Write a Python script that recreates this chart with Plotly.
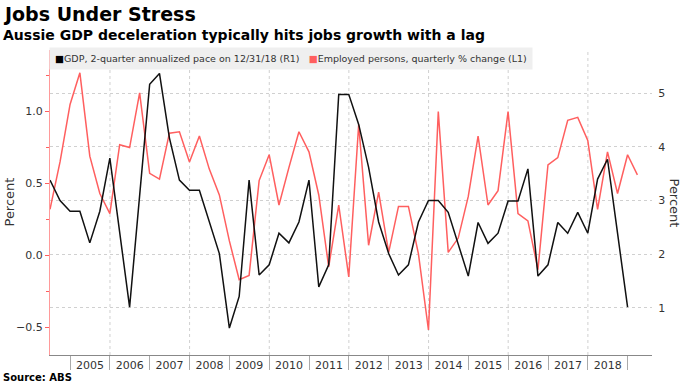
import pandas as pd
import plotly.graph_objects as go

# ---------------- data ----------------
gdp_start = "2004Q2"
gdp_values = [3.38, 3.00, 2.80, 2.80, 2.21, 2.80, 3.79, 2.40, 1.01, 3.09,
              5.17, 5.37, 4.17, 3.38, 3.19, 3.19, 2.60, 2.01, 0.62, 1.21,
              3.38, 1.61, 1.80, 2.39, 2.21, 2.60, 3.38, 1.39, 1.80, 4.98,
              4.98, 4.42, 3.62, 2.60, 2.01, 1.61, 1.80, 2.60, 3.00, 3.00,
              2.78, 2.19, 1.59, 2.59, 2.20, 2.39, 2.99, 2.99, 3.59, 1.59,
              1.80, 2.59, 2.39, 2.78, 2.39, 3.40, 3.77, 2.39, 1.01]

emp_start = "2004Q2"
emp_values = [0.32, 0.65, 1.05, 1.27, 0.69, 0.43, 0.29, 0.77, 0.75, 1.13,
              0.57, 0.53, 0.85, 0.86, 0.65, 0.83, 0.60, 0.42, 0.10, -0.17,
              -0.14, 0.52, 0.70, 0.35, 0.61, 0.86, 0.72, 0.42, -0.08, 0.35,
              -0.15, 0.91, 0.07, 0.44, 0.02, 0.34, 0.34, 0.01, -0.52, 1.00,
              0.02, 0.12, 0.41, 0.83, 0.35, 0.45, 1.00, 0.29, 0.24, -0.10,
              0.63, 0.68, 0.94, 0.96, 0.80, 0.32, 0.72, 0.43, 0.70, 0.56]

years = list(range(2005, 2019))
year_labels = [str(y) for y in years]
left_ticks = [-0.5, 0.0, 0.5, 1.0]
right_ticks = [1, 2, 3, 4, 5]

gdp_name = "GDP, 2-quarter annualized pace on 12/31/18 (R1)"
emp_name = "Employed persons, quarterly % change (L1)"

# ---------------- helpers ----------------
def quarter_ends(start, n):
    return pd.period_range(start, periods=n, freq="Q").end_time.normalize()

gdp_dates = quarter_ends(gdp_start, len(gdp_values))
emp_dates = quarter_ends(emp_start, len(emp_values))

RED = "#ff5f5f"
FONT = "DejaVu Sans"

fig = go.Figure()
fig.add_trace(go.Scatter(x=gdp_dates, y=gdp_values, mode="lines", name=gdp_name,
                         line=dict(color="#111111", width=1.5), yaxis="y2"))
fig.add_trace(go.Scatter(x=emp_dates, y=emp_values, mode="lines", name=emp_name,
                         line=dict(color=RED, width=1.5), yaxis="y"))

# vertical dotted gridlines every two years
for y in years:
    if y % 2 == 0:
        fig.add_shape(type="line", x0=f"{y}-01-01", x1=f"{y}-01-01", xref="x",
                      y0=0, y1=1, yref="paper", layer="below",
                      line=dict(color="#d0d0d0", width=1, dash="dot"))

fig.update_layout(
    width=683, height=384,
    margin=dict(l=50, r=31, t=50, b=29),
    paper_bgcolor="white", plot_bgcolor="white",
    showlegend=False,
    font=dict(family=FONT, size=11, color="#333333"),
    xaxis=dict(
        type="date",
        range=["2004-06-30", "2019-08-12"],
        tickmode="array",
        tickvals=[f"{y}-07-02" for y in years],
        ticktext=year_labels,
        ticks="",
        showgrid=False, zeroline=False,
        showline=True, linecolor="#888888", linewidth=1,
        tickfont=dict(size=11, color="#333333"),
        minor=dict(tickmode="linear", tick0="2005-01-01", dtick="M12",
                   ticks="outside", ticklen=14, tickcolor="#aaaaaa", tickwidth=1,
                   showgrid=False),
    ),
    yaxis=dict(
        range=[-0.694, 1.429],
        tickmode="array", tickvals=left_ticks, tickformat=".1f",
        ticks="outside", ticklen=4, tickcolor=RED, tickwidth=1,
        showgrid=False, zeroline=False,
        showline=True, linecolor="#ff9a9a", linewidth=1,
        tickfont=dict(size=11, color="#333333"),
        minor=dict(tickmode="linear", tick0=0, dtick=0.25, ticks="outside",
                   ticklen=3, tickcolor=RED, showgrid=False),
    ),
    yaxis2=dict(
        range=[0.118, 5.808], overlaying="y", side="right",
        tickmode="array", tickvals=right_ticks,
        ticks="outside", ticklen=3, tickcolor="rgba(0,0,0,0)",
        showgrid=True, gridcolor="#d0d0d0", griddash="dot", gridwidth=1,
        zeroline=False, showline=False,
        tickfont=dict(size=11, color="#333333"),
    ),
)

PX_W = 602.0
PX_H = 305.0
def px(xp):
    return (xp - 50) / PX_W
def py(yp):
    return (355 - yp) / PX_H

legend_text = (f"<span style='color:#000000'>■</span>{gdp_name}   "
               f"<span style='color:{RED}'>■</span>{emp_name}")

annotations = [
    dict(text="<b>Jobs Under Stress</b>", x=px(1), y=py(14), xanchor="left", yanchor="middle",
         font=dict(family=FONT, size=19, color="#000000")),
    dict(text="<b>Aussie GDP deceleration typically hits jobs growth with a lag</b>",
         x=px(1), y=py(35), xanchor="left", yanchor="middle",
         font=dict(family=FONT, size=14, color="#000000")),
    dict(text=legend_text, x=px(49), y=py(58), xanchor="left", yanchor="middle",
         bgcolor="#efefef", borderpad=5, align="left",
         font=dict(family=FONT, size=9.5, color="#333333")),
    dict(text="Percent", x=px(9), y=0.5, textangle=-90, xanchor="center", yanchor="middle",
         font=dict(family=FONT, size=13, color="#333333")),
    dict(text="Percent", x=px(674), y=0.5, textangle=90, xanchor="center", yanchor="middle",
         font=dict(family=FONT, size=13, color="#333333")),
    dict(text="<b>Source: ABS</b>", x=px(1), y=py(377), xanchor="left", yanchor="middle",
         font=dict(family=FONT, size=10, color="#000000")),
]
for a in annotations:
    a.update(xref="paper", yref="paper", showarrow=False)
fig.update_layout(annotations=annotations)

fig.write_html("out.html",
               config={"displayModeBar": False},
               post_script="document.body.style.margin='0';document.body.style.padding='0';")
